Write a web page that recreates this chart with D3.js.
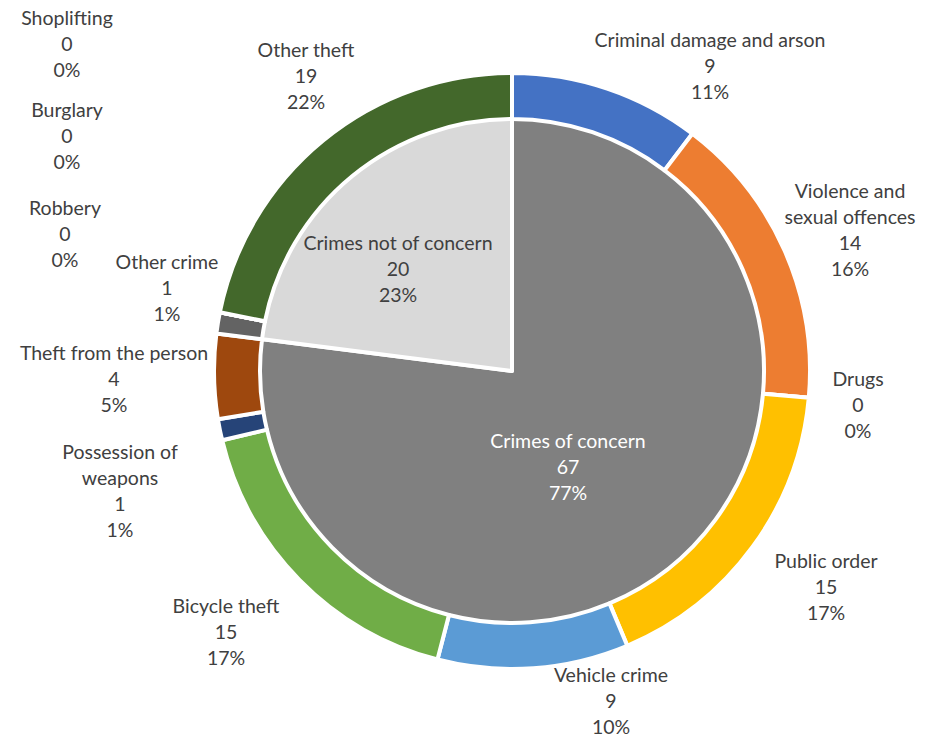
<!DOCTYPE html>
<html>
<head>
<meta charset="utf-8">
<script src="https://cdn.jsdelivr.net/npm/d3@7/dist/d3.min.js"></script>
<style>
  html, body { margin: 0; padding: 0; background: #fff; }
  svg { display: block; }
  text { font-family: Lato, "Open Sans", sans-serif; font-size: 19.5px; }
</style>
</head>
<body>
<svg id="chart" width="936" height="737"></svg>
<script>
// Inner pie: concern split
const groupNames = ["Crimes of concern", "Crimes not of concern"];
const groupValues = [67, 20];
const groupPercents = ["77%", "23%"];
const groupColors = ["#808080", "#D9D9D9"];
const groupTextColors = ["#ffffff", "#404040"];

// Outer ring: crime categories (clockwise from 12 o'clock)
const categories = [
  "Criminal damage and arson", "Violence and sexual offences", "Drugs",
  "Public order", "Vehicle crime", "Bicycle theft", "Possession of weapons",
  "Theft from the person", "Other crime", "Robbery", "Burglary",
  "Shoplifting", "Other theft"
];
const categoryValues = [9, 14, 0, 15, 9, 15, 1, 4, 1, 0, 0, 0, 19];
// Percent labels (rounded so the ring sums to 100%)
const categoryPercents = ["11%", "16%", "0%", "17%", "10%", "17%", "1%", "5%", "1%", "0%", "0%", "0%", "22%"];
const categoryColors = [
  "#4472C4", "#ED7D31", "#A5A5A5", "#FFC000", "#5B9BD5", "#70AD47",
  "#264478", "#9E480E", "#636363", "#997300", "#255E91", "#698ED0", "#43682B"
];

// Label line breaks where the category name wraps
const labelLines = {
  "Violence and sexual offences": ["Violence and", "sexual offences"],
  "Possession of weapons": ["Possession of", "weapons"]
};

// Label anchor (centre of first line) for each category / group
const labelAnchor = {
  "Criminal damage and arson": [710, 40],
  "Violence and sexual offences": [850, 191],
  "Drugs": [858, 379],
  "Public order": [826, 561],
  "Vehicle crime": [611, 675],
  "Bicycle theft": [226, 606],
  "Possession of weapons": [120, 452],
  "Theft from the person": [114, 353],
  "Other crime": [167, 262],
  "Robbery": [65, 208],
  "Burglary": [67, 110],
  "Shoplifting": [67, 18],
  "Other theft": [306, 50],
  "Crimes of concern": [568, 441],
  "Crimes not of concern": [398, 243]
};

const cx = 512, cy = 371;
const lineH = 26.2;
const svg = d3.select("#chart");
const g = svg.append("g").attr("transform", `translate(${cx},${cy})`);

const pie = d3.pie().sort(null).value(d => d.value);

const inner = pie(groupNames.map((n, i) => ({
  name: n, value: groupValues[i], pct: groupPercents[i],
  color: groupColors[i], text: groupTextColors[i]
})));
const outer = pie(categories.map((n, i) => ({
  name: n, value: categoryValues[i], pct: categoryPercents[i],
  color: categoryColors[i], text: "#404040"
})));

const innerArc = d3.arc().innerRadius(0).outerRadius(253);
const outerArc = d3.arc().innerRadius(252).outerRadius(298);

g.selectAll("path.inner").data(inner).join("path")
  .attr("class", "inner")
  .attr("d", innerArc)
  .attr("fill", d => d.data.color)
  .attr("stroke", "#fff").attr("stroke-width", 4).attr("stroke-linejoin", "round");

g.selectAll("path.outer").data(outer).join("path")
  .attr("class", "outer")
  .attr("d", outerArc)
  .attr("fill", d => d.data.color)
  .attr("stroke", "#fff").attr("stroke-width", 4).attr("stroke-linejoin", "round");

function drawLabel(d) {
  const [x, y] = labelAnchor[d.name];
  const lines = (labelLines[d.name] || [d.name]).concat([String(d.value), d.pct]);
  const t = svg.append("text")
    .attr("text-anchor", "middle")
    .attr("fill", d.text);
  lines.forEach((ln, i) => {
    t.append("tspan")
      .attr("x", x)
      .attr("y", y + i * lineH)
      .attr("dy", "0.35em")
      .text(ln);
  });
}

outer.forEach(d => drawLabel(d.data));
inner.forEach(d => drawLabel(d.data));
</script>
</body>
</html>
